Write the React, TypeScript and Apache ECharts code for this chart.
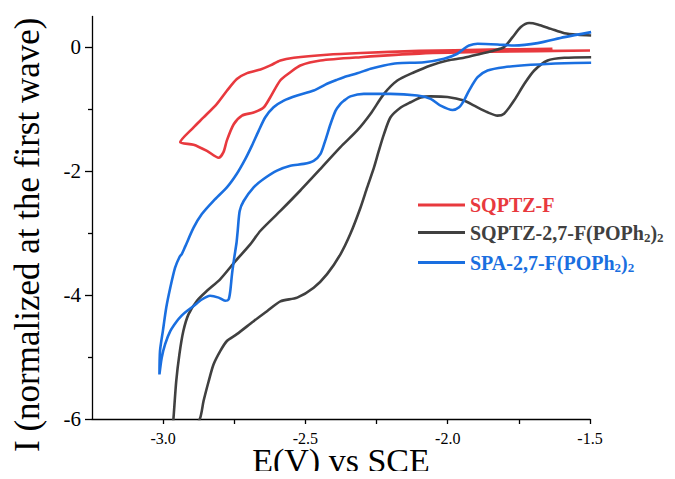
import React, { useEffect, useRef } from "react";
import * as echarts from "echarts";

// Cyclic voltammograms: potential E (V vs SCE) and normalized current I
const seriesNames = ["SQPTZ-F", "SQPTZ-2,7-F(POPh2)2", "SPA-2,7-F(POPh2)2"];
const seriesColors = ["#e8393e", "#404040", "#1a6fe0"];

const sqptzE = [
  -1.632, -1.85, -2.1, -2.306, -2.424, -2.541, -2.588, -2.623, -2.658, -2.705, -2.741,
  -2.776, -2.811, -2.858, -2.893, -2.94, -2.893, -2.846, -2.805, -2.788, -2.776, -2.752,
  -2.723, -2.682, -2.647, -2.623, -2.588, -2.553, -2.518, -2.447, -2.306, -2.1, -1.85, -1.5,
];
const sqptzI = [
  -0.02, -0.035, -0.055, -0.09, -0.118, -0.167, -0.21, -0.29, -0.356, -0.415, -0.51,
  -0.7, -0.91, -1.13, -1.29, -1.53, -1.57, -1.67, -1.78, -1.69, -1.5, -1.24,
  -1.1, -1.05, -0.97, -0.8, -0.53, -0.4, -0.29, -0.21, -0.157, -0.1, -0.07, -0.05,
];

const popE = [
  -1.496, -1.543, -1.59, -1.637, -1.684, -1.714, -1.743, -1.772, -1.802, -1.837, -1.884,
  -1.943, -2.001, -2.06, -2.118, -2.177, -2.224, -2.271, -2.318, -2.377, -2.447, -2.518,
  -2.588, -2.658, -2.694, -2.746, -2.799, -2.846, -2.881, -2.911, -2.929, -2.943, -2.954,
  -2.964, -2.98, -2.872, -2.858, -2.84, -2.823, -2.799, -2.776, -2.741, -2.682, -2.635,
  -2.588, -2.529, -2.471, -2.424, -2.377, -2.342, -2.306, -2.283, -2.259, -2.242, -2.224,
  -2.201, -2.165, -2.13, -2.095, -2.06, -2.001, -1.943, -1.907, -1.86, -1.825, -1.802,
  -1.767, -1.731, -1.696, -1.649, -1.59, -1.496,
];
const popI = [
  0.194, 0.205, 0.23, 0.3, 0.372, 0.394, 0.33, 0.167, 0.005, -0.049, -0.102,
  -0.167, -0.21, -0.29, -0.4, -0.534, -0.75, -1.07, -1.34, -1.61, -1.96, -2.31,
  -2.64, -2.96, -3.18, -3.45, -3.74, -3.93, -4.09, -4.31, -4.58, -4.96, -5.39,
  -6.01, -6.9, -6.01, -5.71, -5.39, -5.12, -4.9, -4.74, -4.63, -4.42, -4.26,
  -4.1, -4.04, -3.88, -3.66, -3.34, -3.01, -2.58, -2.26, -1.937, -1.667, -1.4,
  -1.128, -0.97, -0.885, -0.81, -0.79, -0.8, -0.858, -0.94, -1.047, -1.1, -1.07,
  -0.858, -0.59, -0.372, -0.21, -0.167, -0.157,
];

const spaE = [
  -1.496, -1.59, -1.684, -1.767, -1.825, -1.895, -1.925, -1.943, -1.966, -2.013, -2.083,
  -2.177, -2.224, -2.271, -2.318, -2.365, -2.388, -2.43, -2.471, -2.529, -2.576, -2.612,
  -2.641, -2.664, -2.688, -2.711, -2.741, -2.776, -2.823, -2.864, -2.893, -2.923, -2.935,
  -2.942, -2.958, -2.975, -2.989, -3.001, -3.011, -3.013, -3.005, -2.993, -2.975, -2.952,
  -2.935, -2.923, -2.893, -2.864, -2.835, -2.805, -2.782, -2.77, -2.764, -2.758, -2.75,
  -2.742, -2.738, -2.731, -2.717, -2.682, -2.647, -2.6, -2.553, -2.506, -2.471, -2.447,
  -2.43, -2.412, -2.394, -2.377, -2.365, -2.342, -2.295, -2.201, -2.107, -2.06, -2.025,
  -1.983, -1.96, -1.943, -1.925, -1.895, -1.86, -1.802, -1.708, -1.59, -1.496,
];
const spaI = [
  0.248, 0.167, 0.07, 0.032, 0.049, 0.06, 0.032, -0.021, -0.102, -0.183, -0.238,
  -0.254, -0.29, -0.345, -0.416, -0.48, -0.52, -0.6, -0.696, -0.777, -0.858, -0.966,
  -1.128, -1.343, -1.586, -1.8, -2.04, -2.26, -2.476, -2.69, -2.91, -3.22, -3.34,
  -3.38, -3.555, -3.88, -4.2, -4.58, -4.9, -5.28, -5.01, -4.79, -4.58, -4.42,
  -4.33, -4.28, -4.175, -4.07, -4.01, -4.04, -4.09, -4.07, -3.93, -3.66, -3.39,
  -3.15, -2.96, -2.64, -2.48, -2.26, -2.125, -1.99, -1.91, -1.88, -1.83, -1.72,
  -1.5, -1.24, -1.02, -0.91, -0.86, -0.79, -0.75, -0.75, -0.777, -0.83, -0.94,
  -1.01, -0.966, -0.858, -0.696, -0.48, -0.372, -0.319, -0.28, -0.254, -0.248,
];

const xLabelValues = [-3.0, -2.5, -2.0, -1.5];
const xTickValues = [-3.0, -2.75, -2.5, -2.25, -2.0, -1.75, -1.5];
const yLabelValues = [-6, -4, -2, 0];
const yMinorValues = [-5, -3, -1];

const serif = '"Times New Roman", "Liberation Serif", serif';

const pairs = (xs: number[], ys: number[]) => xs.map((x, i) => [x, ys[i]]);

// Subscript the "2" digits that follow "Ph" and ")" in the compound names
const richName = (name: string) =>
  name
    .split(/(Ph2|\)2)/)
    .filter((p) => p.length > 0)
    .map((p) => {
      if (p === "Ph2") return "{m|Ph}{s|2}";
      if (p === ")2") return "{m|)}{s|2}";
      return `{m|${p}}`;
    })
    .join("");

const legendTops = [195, 222.5, 252.5];

export default function App() {
  const ref = useRef<HTMLDivElement>(null);

  useEffect(() => {
    if (!ref.current) return;
    const chart = echarts.init(ref.current, undefined, { renderer: "svg" });

    const seriesData = [
      pairs(sqptzE, sqptzI),
      pairs(popE, popI),
      pairs(spaE, spaI),
    ];

    const axisLineStyle = { color: "#000", width: 1.3 };

    chart.setOption({
      animation: false,
      backgroundColor: "#fff",
      grid: {
        left: 92,
        top: 16.5,
        width: 498,
        height: 402.5,
        containLabel: false,
        outerBoundsMode: "none",
      },
      xAxis: {
        type: "value",
        min: -3.25,
        max: -1.5,
        name: "E(V) vs SCE",
        nameLocation: "middle",
        nameGap: 25,
        nameMoveOverlap: false,
        nameTextStyle: {
          fontFamily: serif,
          fontSize: 34,
          lineHeight: 32,
          color: "#000",
        },
        axisLine: { show: true, onZero: false, lineStyle: axisLineStyle },
        axisTick: {
          show: true,
          customValues: xTickValues,
          length: 5,
          lineStyle: axisLineStyle,
        },
        axisLabel: {
          customValues: xLabelValues,
          formatter: (v: number) => v.toFixed(1),
          fontFamily: serif,
          fontSize: 16,
          lineHeight: 12,
          color: "#000",
          margin: 13,
        },
        splitLine: { show: false },
      },
      yAxis: [
        {
          type: "value",
          min: -6,
          max: 0.5,
          name: "I (normalized at the first wave)",
          nameLocation: "middle",
          nameGap: 47,
          nameMoveOverlap: false,
          nameTextStyle: {
            fontFamily: serif,
            fontSize: 35,
            color: "#000",
            padding: [0, 34, 0, 0],
          },
          axisLine: { show: true, onZero: false, lineStyle: axisLineStyle },
          axisTick: {
            show: true,
            customValues: yLabelValues,
            length: 7,
            lineStyle: axisLineStyle,
          },
          axisLabel: {
            customValues: yLabelValues,
            fontFamily: serif,
            fontSize: 21,
            color: "#000",
            margin: 11,
          },
          splitLine: { show: false },
        },
        {
          type: "value",
          min: -6,
          max: 0.5,
          position: "left",
          axisLine: { show: false },
          axisTick: {
            show: true,
            customValues: yMinorValues,
            length: 4,
            lineStyle: axisLineStyle,
          },
          axisLabel: { show: false },
          splitLine: { show: false },
        },
      ],
      legend: seriesNames.map((name, i) => ({
        data: [name],
        left: 418,
        top: legendTops[i],
        padding: 0,
        icon: "rect",
        itemWidth: 47,
        itemHeight: 3,
        selectedMode: false,
        formatter: richName,
        textStyle: {
          rich: {
            m: {
              fontFamily: serif,
              fontWeight: "bold",
              fontSize: 20,
              color: seriesColors[i],
              lineHeight: 22,
            },
            s: {
              fontFamily: serif,
              fontWeight: "bold",
              fontSize: 13,
              color: seriesColors[i],
              lineHeight: 8,
              verticalAlign: "bottom",
            },
          },
        },
      })),
      series: seriesNames.map((name, i) => ({
        name,
        type: "line",
        data: seriesData[i],
        color: seriesColors[i],
        symbol: "none",
        showSymbol: false,
        smooth: 0.25,
        clip: true,
        lineStyle: { width: 2.6, color: seriesColors[i] },
      })),
    });

    return () => chart.dispose();
  }, []);

  return <div ref={ref} style={{ width: 675, height: 479, margin: -8 }} />;
}
